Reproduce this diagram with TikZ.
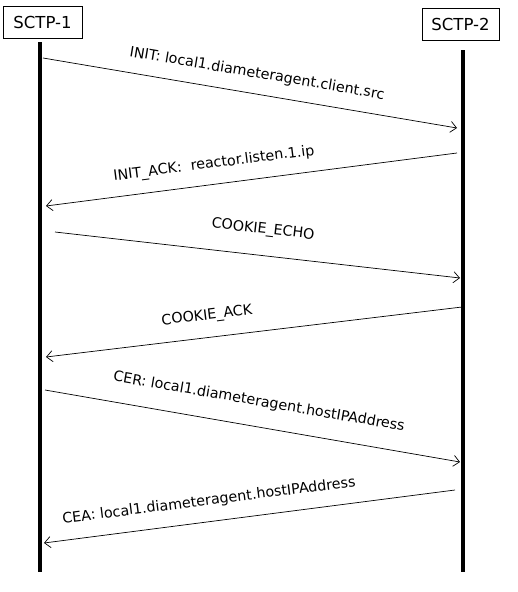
\documentclass[tikz,border=0pt]{standalone}
\usepackage{fontspec}
\setmainfont{DejaVu Sans}
\usetikzlibrary{arrows.meta}
\begin{document}
\begin{tikzpicture}[x=1pt,y=-1pt,
  actor/.style={draw,line width=0.8pt,minimum height=32pt,inner sep=0pt,font=\fontsize{16.5}{18}\selectfont},
  lifeline/.style={line width=4pt},
  msg/.style={line width=0.7pt,-{Straight Barb[length=6pt,width=11pt,line width=0.7pt]}},
  lbl/.style={font=\fontsize{14.3}{16}\selectfont,inner sep=0pt}]
\useasboundingbox (0,0) rectangle (518,592);
\node[actor,minimum width=79pt] (p1) at (42.5,22) {SCTP-1};
\node[actor,minimum width=77pt] (p2) at (460.5,24) {SCTP-2};
\coordinate (l1t) at (39.5,42);
\coordinate (l1b) at (39.5,572);
\coordinate (l2t) at (463,50);
\coordinate (l2b) at (463,572);
\draw[lifeline] (l1t) -- (l1b);
\draw[lifeline] (l2t) -- (l2b);
% messages
\coordinate (m1s) at (43,58);   \coordinate (m1e) at (457,128);
\coordinate (m2s) at (457,153); \coordinate (m2e) at (46,206);
\coordinate (m3s) at (55,232);  \coordinate (m3e) at (460,278);
\coordinate (m4s) at (462,307); \coordinate (m4e) at (46,357);
\coordinate (m5s) at (45,390);  \coordinate (m5e) at (460,462);
\coordinate (m6s) at (455,490); \coordinate (m6e) at (44,543);
\draw[msg] (m1s) -- (m1e);
\draw[msg] (m2s) -- (m2e);
\draw[msg] (m3s) -- (m3e);
\draw[msg] (m4s) -- (m4e);
\draw[msg] (m5s) -- (m5e);
\draw[msg] (m6s) -- (m6e);
\node[lbl,rotate=-9.6] (t1) at (257,74) {INIT:\ local1.diameteragent.client.src};
\node[lbl,rotate=7.3] (t2) at (214,164) {INIT\_ACK:\ \ reactor.listen.1.ip};
\node[lbl,rotate=-6.5] (t3) at (263,230) {COOKIE\_ECHO};
\node[lbl,rotate=7] (t4) at (207,316) {COOKIE\_ACK};
\node[lbl,rotate=-9.8] (t5) at (259,402) {CER: local1.diameteragent.hostIPAddress};
\node[lbl,rotate=7.2] (t6) at (209,501) {CEA: local1.diameteragent.hostIPAddress};
\end{tikzpicture}
\end{document}
